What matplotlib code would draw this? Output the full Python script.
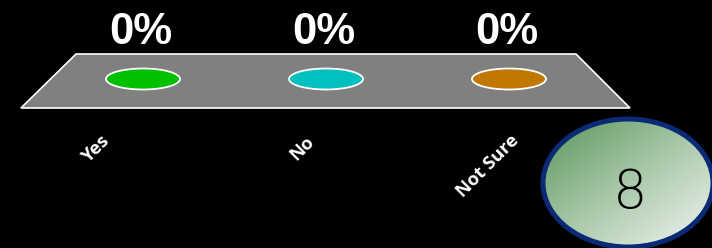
import numpy as np
import matplotlib
matplotlib.use("Agg")
import matplotlib.pyplot as plt
from matplotlib.patches import Ellipse, Polygon
from matplotlib.colors import LinearSegmentedColormap

# ---- data ----
categories = ["Yes", "No", "Not Sure"]
values = [0, 0, 0]            # percent
value_labels = ["0%", "0%", "0%"]
bar_colors = ["#00C000", "#00C0C0", "#C07800"]
counter_text = "8"

W, H = 712, 248
fig = plt.figure(figsize=(W / 100, H / 100), dpi=100, facecolor="black")
ax = fig.add_axes([0, 0, 1, 1])
ax.set_facecolor("black")
ax.axis("off")

# data scale: one category step = 183 px, category 0 at x=143 px; value 0 at y=79 px (1 unit = 1 px)
step = 183.0
x0 = 143.0
ax.set_xlim(-x0 / step, (W - x0) / step)
ax.set_ylim(-(H - 79), 79)

# floor (trapezoid)
floor = Polygon([(-0.366, 25), (2.366, 25), (2.661, -29), (-0.667, -29)],
                closed=True, facecolor="#808080", edgecolor="white", lw=1.2, zorder=1)
ax.add_patch(floor)

scale = 1.0  # px per percent (bars are 0 tall)
for i, (cat, v, lab, c) in enumerate(zip(categories, values, value_labels, bar_colors)):
    e = Ellipse((i, v * scale), width=74 / step, height=21, facecolor=c,
                edgecolor="white", lw=1.3, zorder=3)
    ax.add_patch(e)
    ax.text(i - 2 / step, v * scale + 35.5, lab, ha="center", va="baseline",
            color="white", fontsize=31.5, fontweight="bold",
            family="Liberation Sans", zorder=4)

# rotated category labels (pixel offsets from category position)
label_dx = [-47, -24, -21]
label_dy = [-70, -69, -87]
for i, cat in enumerate(categories):
    ax.text(i + label_dx[i] / step, label_dy[i], cat, rotation=45,
            rotation_mode="anchor", ha="center", va="center",
            color="white", fontsize=13.2, fontweight="bold", family="Open Sans")

# counter circle with gradient
cx, cy = (628 - x0) / step, 79 - 183
ew, eh = 170 / step, 128
circ = Ellipse((cx, cy), width=ew, height=eh, facecolor="none",
               edgecolor="#0A2A75", lw=3.6, zorder=6)
cmap = LinearSegmentedColormap.from_list("g", ["#5A955C", "#A9C8A9", "#F4F6F4"])
gx, gy = np.meshgrid(np.linspace(0, 1, 200), np.linspace(0, 1, 200))
grad = (gx + gy) / 2  # top-left -> bottom-right
im = ax.imshow(grad, cmap=cmap, extent=[cx - ew / 2, cx + ew / 2, cy - eh / 2, cy + eh / 2],
               origin="upper", aspect="auto", zorder=5)
clip = Ellipse((cx, cy), width=ew, height=eh, transform=ax.transData)
im.set_clip_path(clip)
ax.add_patch(circ)
ax.text(cx + 2 / step, cy - 10, counter_text, ha="center", va="center",
        fontsize=39, color="black", family="DejaVu Sans", fontweight=200, zorder=7)
ax.set_xlim(-x0 / step, (W - x0) / step)
ax.set_ylim(-(H - 79), 79)

fig.savefig("out.png", dpi=100, facecolor="black")
